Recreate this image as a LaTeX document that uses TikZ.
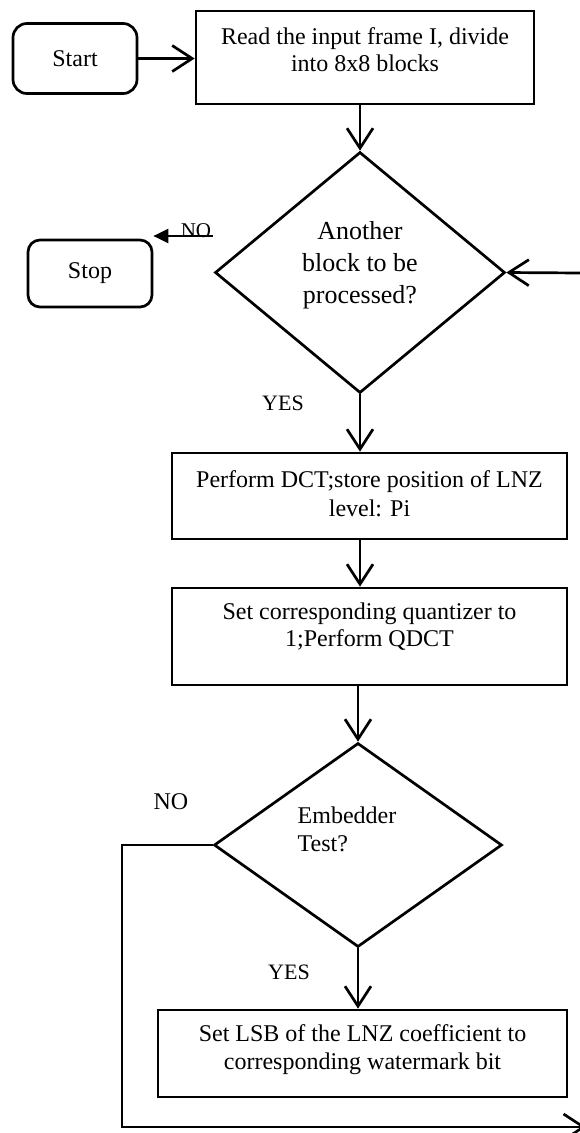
\documentclass[tikz,border=0pt]{standalone}
\usepackage{fontspec}
\setmainfont{Liberation Serif}
\usetikzlibrary{arrows.meta,shapes.geometric,calc}

\begin{document}
\begin{tikzpicture}[x=1pt, y=-1pt, line width=2.7pt,
    >={Straight Barb[length=20pt,width=26pt]},
    box/.style={draw, rectangle, minimum width=#1},
    term/.style={draw, rectangle, rounded corners=14pt, minimum width=124pt,
      minimum height=70pt, font=\fontsize{24}{27}\selectfont},
    dec/.style={draw, diamond, inner sep=0pt},
    txt/.style={align=center, inner sep=0pt, font=\fontsize{24}{27}\selectfont},
    lbl/.style={inner sep=0pt, font=\fontsize{22}{24}\selectfont}]
  \useasboundingbox (0,0) rectangle (580,1133);
  \node[term] (start) at (75,58.5) {Start};
  \node[term, minimum height=67pt, rounded corners=12pt] (stop) at (90,273.5) {Stop};
  \node[box=338pt, minimum height=93pt,
    label={[txt, yshift=8pt]center:{Read the input frame I, divide\\into 8x8 blocks}}]
    (read) at (365,57.5) {};
  \node[dec, minimum width=290pt, minimum height=241pt,
    label={[txt, font=\fontsize{26}{32}\selectfont, yshift=7.5pt]center:{Another\\block to be\\processed?}}]
    (more) at (360,272.5) {};
  \node[box=395pt, minimum height=86pt,
    label={[txt, font=\fontsize{24}{29}\selectfont, yshift=2.5pt]center:{Perform DCT;store position of LNZ\\level: Pi}}]
    (dct) at (369.5,496) {};
  \node[box=395pt, minimum height=97pt,
    label={[txt, yshift=10pt]center:{Set corresponding quantizer to\\1;Perform QDCT}}]
    (quant) at (369.5,636.5) {};
  \node[dec, minimum width=288pt, minimum height=204pt,
    label={[txt, align=left, font=\fontsize{24}{28}\selectfont, xshift=-11pt, yshift=16pt]center:{Embedder\\Test?}}]
    (test) at (358,845) {};
  \node[box=409pt, minimum height=87pt,
    label={[txt, font=\fontsize{24}{28}\selectfont, yshift=3.5pt]center:{Set LSB of the LNZ coefficient to\\corresponding watermark bit}}]
    (setlsb) at (362.5,1053.5) {};
  \node[lbl, font=\fontsize{21}{24}\selectfont, anchor=base] (no1) at (196,237) {NO};
  \node[lbl] (yes1) at (283,403) {YES};
  \node[lbl, font=\fontsize{24}{27}\selectfont] (no2) at (171,802) {NO};
  \node[lbl] (yes2) at (289,972) {YES};
  \coordinate (nofrom) at (213,236);
  \coordinate (loopin) at (581,273);
  \coordinate (loopleft) at (122,1127);
  \coordinate (loopend) at (586,1127);
  \draw[->] (start.east) -- (start.east -| read.west);
  \draw[->] (read.south -| more.north) -- (more.north);
  \draw[-{Triangle[length=15pt,width=14pt]}, line width=2.2pt] (nofrom) -- (nofrom -| stop.east);
  \draw[->] (loopin) -- (more.east);
  \draw[->] (more.south) -- (more.south |- dct.north);
  \draw[->] (dct.south -| more.south) -- (quant.north -| more.south);
  \draw[->] (quant.south -| test.north) -- (test.north);
  \draw[->] (test.south) -- (test.south |- setlsb.north);
  \draw[->] (test.west) -| (loopleft) -- (loopend);
\end{tikzpicture}
\end{document}
